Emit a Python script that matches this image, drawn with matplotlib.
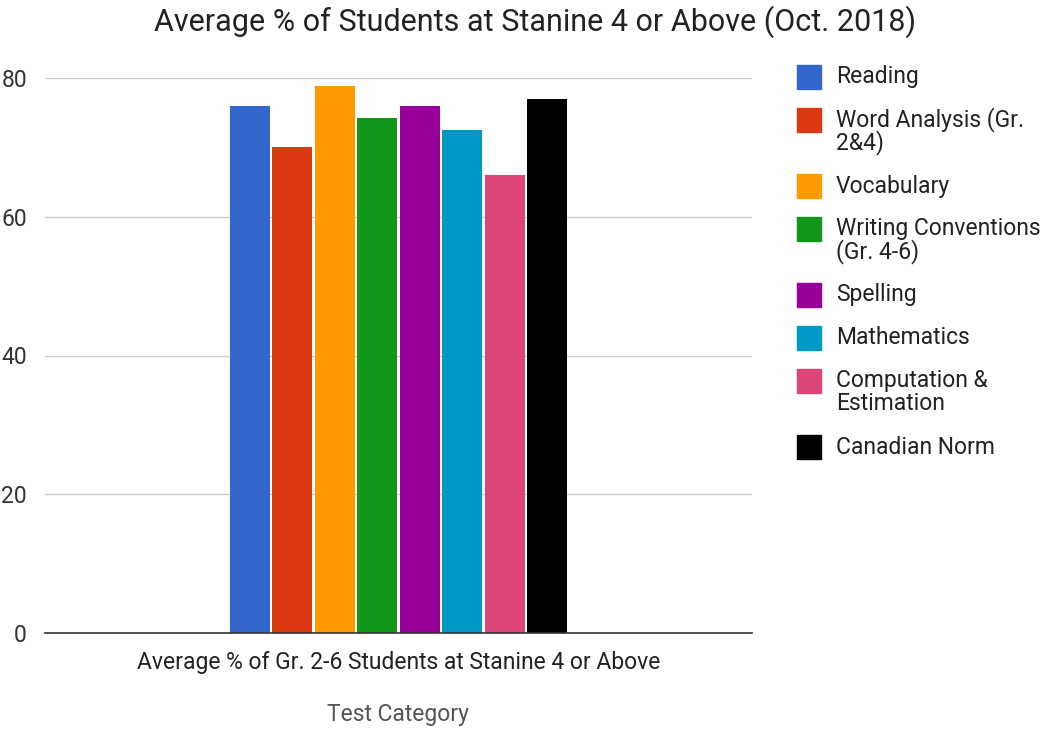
import matplotlib.pyplot as plt
from matplotlib.patches import Rectangle

categories = [
    "Reading",
    "Word Analysis (Gr.\n2&4)",
    "Vocabulary",
    "Writing Conventions\n(Gr. 4-6)",
    "Spelling",
    "Mathematics",
    "Computation &\nEstimation",
    "Canadian Norm",
]
values = [75.9, 70.0, 78.9, 74.2, 75.9, 72.5, 66.0, 77.0]
colors = ["#3366cc", "#dc3912", "#ff9900", "#109618", "#990099", "#0099c6", "#dd4477", "#000000"]
yticks = [0, 20, 40, 60, 80]
group_label = "Average % of Gr. 2-6 Students at Stanine 4 or Above"

plt.rcParams["font.family"] = ["Roboto", "DejaVu Sans"]

W, H = 1045, 729
fig = plt.figure(figsize=(W / 100, H / 100), dpi=100)
ax = fig.add_axes([45 / W, 1 - 633 / H, (752 - 45) / W, (633 - 78) / H])

pitch = 42.5 / 707
width = 40 / 707
n = len(values)
xs = [0.5 + (i - (n - 1) / 2) * pitch for i in range(n)]
ax.bar(xs, values, width=width, color=colors, zorder=3)

ax.set_xlim(0, 1)
ax.set_ylim(0, 80)
ax.set_yticks(yticks)
ax.set_yticklabels([str(t) for t in yticks], fontsize=16.5, color="#333333")
ax.tick_params(axis="y", length=0, pad=13)
ax.set_xticks([0.5])
ax.set_xticklabels([group_label], fontsize=16.5, color="#222222")
ax.tick_params(axis="x", length=0, pad=13)
ax.grid(axis="y", color="#cccccc", linewidth=1, zorder=0)
for s in ["top", "right", "left"]:
    ax.spines[s].set_visible(False)
ax.spines["bottom"].set_color("#333333")
ax.spines["bottom"].set_linewidth(1.2)
ax.spines["bottom"].set_zorder(4)

fig.text(398 / W, 1 - 714 / H, "Test Category", ha="center", va="center", fontsize=16.5, color="#555555")
fig.text(535 / W, 1 - 22 / H, "Average % of Students at Stanine 4 or Above (Oct. 2018)",
         ha="center", va="center", fontsize=22, color="#222222")

# legend, drawn by hand so the swatch lines up with the first text line
y = 77
for label, c in zip(categories, colors):
    fig.patches.append(Rectangle((797 / W, 1 - (y + 12) / H), 24 / W, 24 / H,
                                 transform=fig.transFigure, color=c))
    lines = label.split("\n")
    for k, line in enumerate(lines):
        fig.text(836 / W, 1 - (y + k * 23) / H, line, ha="left", va="center",
                 fontsize=16.5, color="#222222")
    y += 23 * (len(lines) - 1) + 43

fig.savefig("out.png", dpi=100)
